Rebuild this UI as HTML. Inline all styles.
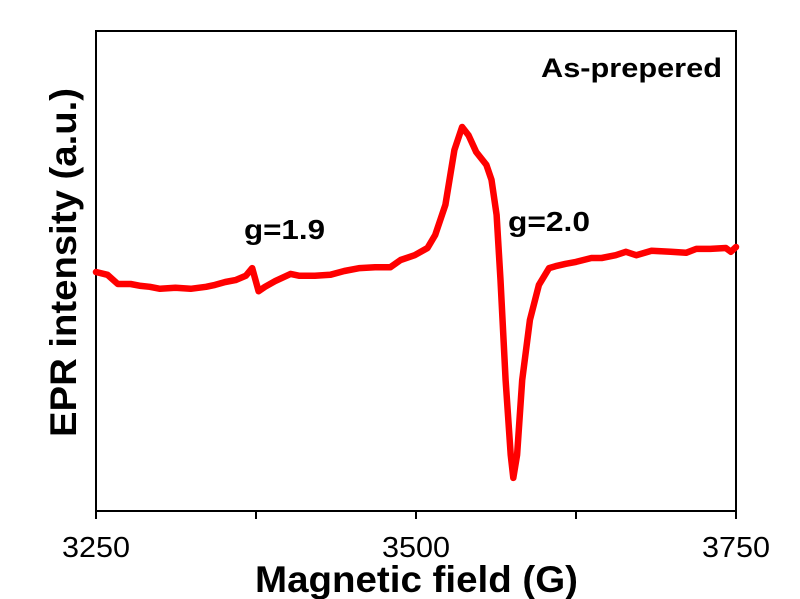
<!DOCTYPE html>
<html><head><meta charset="utf-8"><style>
html,body{margin:0;padding:0;background:#fff;}
svg{display:block;font-family:"Liberation Sans",Arial,sans-serif;}
</style></head><body>
<svg id="chart" width="800" height="599" viewBox="0 0 800 599">
<rect x="96" y="31" width="640" height="480" fill="none" stroke="#000" stroke-width="2"/>
<g id="ticks"></g>
<path id="curve" fill="none" stroke="#ff0000" stroke-width="6.5" stroke-linejoin="round" stroke-linecap="round"/>
<text x="541" y="77" textLength="181" lengthAdjust="spacingAndGlyphs" font-size="27" font-weight="bold">As-prepered</text>
<text x="244" y="239" textLength="81" lengthAdjust="spacingAndGlyphs" font-size="28" font-weight="bold">g=1.9</text>
<text x="508" y="231" textLength="82" lengthAdjust="spacingAndGlyphs" font-size="28" font-weight="bold">g=2.0</text>
<text x="255" y="592" textLength="323" lengthAdjust="spacingAndGlyphs" font-size="37" font-weight="bold">Magnetic field (G)</text>
<text transform="translate(76,437) rotate(-90)" textLength="349" lengthAdjust="spacingAndGlyphs" font-size="37" font-weight="bold">EPR intensity (a.u.)</text>
</svg>
<script>
const fields=[3250,3259,3267,3277,3285,3292,3300,3312,3324,3336,3343,3351,3359,3367,3372,3377,3382,3390,3402,3409,3421,3433,3444,3456,3468,3480,3488,3499,3509,3515,3523,3530,3536,3541,3547,3555,3559,3563,3566,3570,3574,3576,3579,3583,3589,3596,3604,3609,3617,3625,3637,3645,3656,3664,3672,3684,3699,3711,3719,3730,3742,3746,3750];
const intensity=[49.8,49.2,47.3,47.3,46.9,46.7,46.3,46.5,46.3,46.7,47.1,47.7,48.1,49.0,50.6,45.8,46.7,47.9,49.4,49.0,49.0,49.2,50.0,50.6,50.8,50.8,52.3,53.3,54.8,57.5,63.8,75.2,80.0,78.3,74.8,72.1,69.0,61.7,48.1,27.3,11.7,6.9,11.7,27.3,39.8,47.1,50.6,51.0,51.5,51.9,52.7,52.7,53.3,54.0,53.3,54.2,54.0,53.8,54.6,54.6,54.8,54.0,55.0];
const xTicks=[3250,3500,3750];
const xMinor=[3375,3625];
const X0=96,X1=736,Y0=511,Y1=31,xmin=3250,xmax=3750,ymin=0,ymax=100;
function xs(v){return X0+(v-xmin)/(xmax-xmin)*(X1-X0);}
function ys(v){return Y0-(v-ymin)/(ymax-ymin)*(Y0-Y1);}
const NS="http://www.w3.org/2000/svg";
const g=document.getElementById('ticks');
xTicks.concat(xMinor).forEach(function(t){
  const l=document.createElementNS(NS,'line');
  l.setAttribute('x1',xs(t));l.setAttribute('x2',xs(t));
  l.setAttribute('y1',Y0);l.setAttribute('y2',Y0+8);
  l.setAttribute('stroke','#000');l.setAttribute('stroke-width','2');
  
  
  g.appendChild(l);
});
xTicks.forEach(function(t){
  const tx=document.createElementNS(NS,'text');
  tx.setAttribute('x',xs(t)-34);tx.setAttribute('y',Y0+46);
  tx.setAttribute('textLength','68');tx.setAttribute('lengthAdjust','spacingAndGlyphs');
  tx.setAttribute('font-size','29');
  tx.textContent=t;
  
  
  g.appendChild(tx);
});
let d='';
fields.forEach(function(f,i){d+=(i?'L':'M')+xs(f).toFixed(1)+','+ys(intensity[i]).toFixed(1);});
document.getElementById('curve').setAttribute('d',d);
</script>
</body></html>
